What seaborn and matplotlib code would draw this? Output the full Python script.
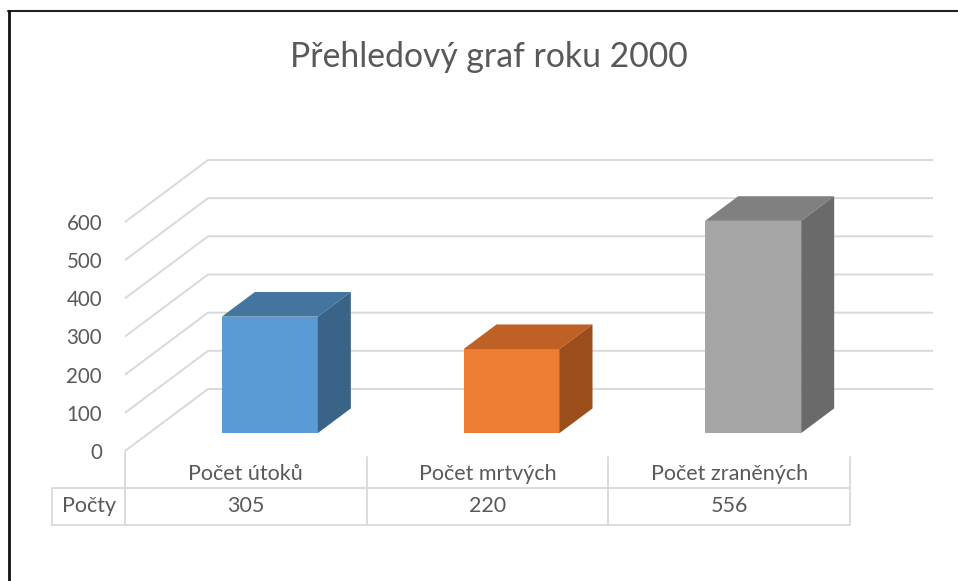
import numpy as np
import pandas as pd
import matplotlib
matplotlib.use("Agg")
import matplotlib.pyplot as plt
import seaborn as sns
from matplotlib.patches import Polygon
from matplotlib.lines import Line2D
from matplotlib import transforms

# ---- data ----
title = "Přehledový graf roku 2000"
categories = ["Počet útoků", "Počet mrtvých", "Počet zraněných"]
values = [305, 220, 556]
series_name = "Počty"
yticks = [0, 100, 200, 300, 400, 500, 600]

front_colors = ["#5B9BD5", "#ED7D31", "#A5A5A5"]
top_colors = ["#44759F", "#BF6126", "#808080"]
side_colors = ["#3A6388", "#9B4E1B", "#6A6A6A"]

# ---- layout ----
W, H = 958, 581
sns.set_theme(style="white")
plt.rcParams['font.family'] = ['Lato', 'DejaVu Sans']
fig = plt.figure(figsize=(W / 100, H / 100), dpi=100)
fig.patch.set_facecolor("white")

# front plane of the 3D box in pixels
FL, FR, FT, FB = 125, 850, 222, 451
ax = fig.add_axes([FL / W, (H - FB) / H, (FR - FL) / W, (FB - FT) / H])
ax.patch.set_alpha(0)

df = pd.DataFrame({"cat": categories, "val": values})
bar_w = 96 / ((FR - FL) / 3)
sns.barplot(data=df, x="cat", y="val", hue="cat", palette=front_colors,
            saturation=1, width=bar_w, legend=False, ax=ax, zorder=4)

ax.set_xlim(-0.5, 2.5)
ax.set_ylim(0, 600)
for s in ax.spines.values():
    s.set_visible(False)
ax.set_xticks([])
ax.set_xlabel("")
ax.set_ylabel("")
ax.set_yticks(yticks)
ax.set_yticklabels([str(t) for t in yticks])
ax.tick_params(axis='y', length=0, pad=16.5, labelsize=14.8, labelcolor="#595959")
ax.grid(False)

px_per_cat = (FR - FL) / 3
px_per_unit = (FB - FT) / 600
DX = 83 / px_per_cat      # full depth of box in data units
DY = 62 / px_per_unit
f_front = 24 / 83
f_back = 57 / 83

# back wall gridlines with left wall diagonals
for v in yticks:
    ax.plot([-0.5, -0.5 + DX, 2.5 + DX], [v, v + DY, v + DY],
            color="#D9D9D9", lw=1.4, clip_on=False, zorder=1,
            solid_capstyle="butt")

# 3D bars
ddx = DX * (f_back - f_front)
ddy = DY * (f_back - f_front)
yb = DY * f_front
for p in list(ax.patches):
    cx = p.get_x() + p.get_width() / 2
    i = int(round(cx))
    p.set_x(p.get_x() + DX * f_front)
    p.set_y(yb)
    p.set_edgecolor("none")
    p.set_clip_on(False)
    x0 = p.get_x()
    x1 = x0 + p.get_width()
    yt = yb + values[i]
    top = Polygon([(x0, yt), (x1, yt), (x1 + ddx, yt + ddy), (x0 + ddx, yt + ddy)],
                  closed=True, facecolor=top_colors[i], edgecolor="none",
                  zorder=4, clip_on=False)
    side = Polygon([(x1, yb), (x1, yt), (x1 + ddx, yt + ddy), (x1 + ddx, yb + ddy)],
                   closed=True, facecolor=side_colors[i], edgecolor="none",
                   zorder=4, clip_on=False)
    ax.add_patch(top)
    ax.add_patch(side)

# ---- data table ----
T_px = transforms.Affine2D().scale(1, -1).translate(0, H)
Tb = transforms.blended_transform_factory(ax.transData, T_px)
tcol = "#D9D9D9"
x_left = -0.5 - 73 / px_per_cat
fig.add_artist(Line2D([-0.5, -0.5], [452, 525], color=tcol, lw=1.3, transform=Tb))
for xv in [0.5, 1.5, 2.5]:
    fig.add_artist(Line2D([xv, xv], [457, 525], color=tcol, lw=1.3, transform=Tb))
for yv in [488, 525]:
    fig.add_artist(Line2D([x_left, 2.5], [yv, yv], color=tcol, lw=1.3, transform=Tb))
fig.add_artist(Line2D([x_left, x_left], [488, 525], color=tcol, lw=1.3, transform=Tb))

for i, (c, v) in enumerate(zip(categories, values)):
    fig.text(i, 474, c, transform=Tb, ha="center", va="center",
             fontsize=15.5, color="#595959")
    fig.text(i, 506, str(v), transform=Tb, ha="center", va="center",
             fontsize=15.5, color="#595959")
fig.text(-0.5 - 36 / px_per_cat, 506, series_name, transform=Tb,
         ha="center", va="center", fontsize=15.5, color="#595959")

# ---- title ----
fig.text(489, 57, title, transform=T_px, ha="center", va="center",
         fontsize=24.3, color="#595959")

# ---- outer frame (top and left only) ----
fig.add_artist(Line2D([8, W], [11, 11], color="#222222", lw=1.5, transform=T_px))
fig.add_artist(Line2D([9, 9], [11, H], color="#111111", lw=2.0, transform=T_px))

fig.savefig("out.png", dpi=100)
